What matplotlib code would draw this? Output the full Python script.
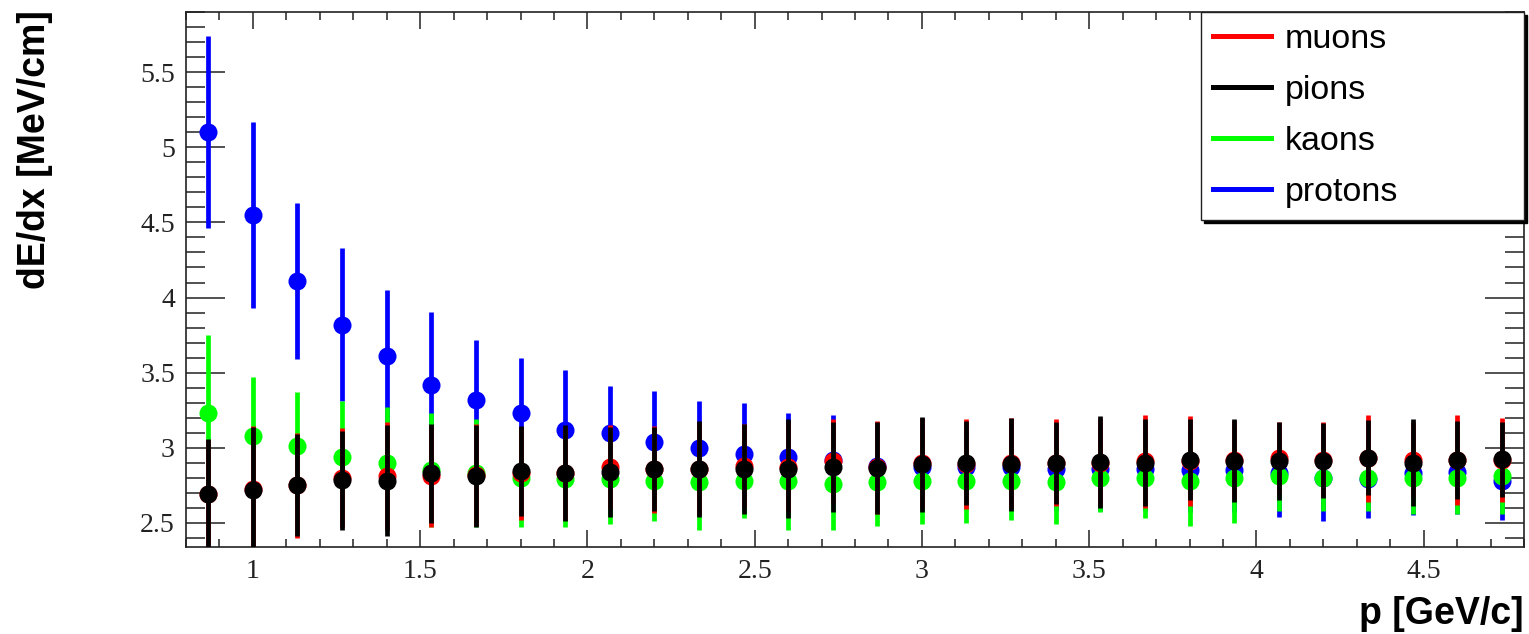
import matplotlib
matplotlib.use('Agg')
import matplotlib.pyplot as plt
from matplotlib.lines import Line2D
from matplotlib.ticker import MultipleLocator

# bin centres, p [GeV/c]
p = [0.867, 1.0, 1.133, 1.267, 1.4, 1.533, 1.667, 1.8, 1.933, 2.067,
	2.2, 2.333, 2.467, 2.6, 2.733, 2.867, 3.0, 3.133, 3.267, 3.4,
	3.533, 3.667, 3.8, 3.933, 4.067, 4.2, 4.333, 4.467, 4.6, 4.733]

muons = [2.69, 2.725, 2.75, 2.80, 2.81, 2.81, 2.82, 2.83, 2.83, 2.87,
	2.857, 2.86, 2.88, 2.87, 2.91, 2.87, 2.90, 2.89, 2.90, 2.90,
	2.90, 2.91, 2.91, 2.92, 2.93, 2.92, 2.93, 2.92, 2.92, 2.92]
muons_err = [0.36, 0.42, 0.35, 0.33, 0.36, 0.34, 0.34, 0.31, 0.31, 0.28,
	0.29, 0.31, 0.28, 0.30, 0.28, 0.31, 0.30, 0.30, 0.30, 0.29,
	0.29, 0.31, 0.30, 0.26, 0.24, 0.25, 0.29, 0.25, 0.30, 0.28]

pions = [2.69, 2.72, 2.755, 2.785, 2.78, 2.83, 2.81, 2.845, 2.835, 2.84,
	2.86, 2.86, 2.86, 2.86, 2.87, 2.865, 2.89, 2.90, 2.89, 2.90,
	2.905, 2.90, 2.92, 2.915, 2.91, 2.915, 2.935, 2.90, 2.92, 2.925]
pions_err = [0.37, 0.42, 0.34, 0.33, 0.37, 0.33, 0.34, 0.30, 0.32, 0.30,
	0.28, 0.32, 0.30, 0.33, 0.30, 0.305, 0.315, 0.28, 0.31, 0.275,
	0.305, 0.29, 0.27, 0.275, 0.26, 0.25, 0.25, 0.29, 0.26, 0.25]

kaons = [3.23, 3.08, 3.01, 2.94, 2.90, 2.85, 2.83, 2.80, 2.79, 2.79,
	2.78, 2.77, 2.78, 2.78, 2.76, 2.77, 2.78, 2.78, 2.78, 2.77,
	2.80, 2.80, 2.78, 2.80, 2.81, 2.80, 2.80, 2.80, 2.80, 2.81]
kaons_err = [0.52, 0.39, 0.36, 0.37, 0.37, 0.38, 0.36, 0.33, 0.32, 0.30,
	0.27, 0.32, 0.25, 0.33, 0.31, 0.29, 0.29, 0.28, 0.26, 0.28,
	0.23, 0.27, 0.30, 0.30, 0.23, 0.22, 0.22, 0.24, 0.24, 0.25]

protons = [5.10, 4.55, 4.11, 3.82, 3.61, 3.42, 3.32, 3.23, 3.12, 3.10,
	3.04, 3.00, 2.96, 2.94, 2.92, 2.88, 2.87, 2.87, 2.87, 2.86,
	2.86, 2.86, 2.85, 2.85, 2.83, 2.80, 2.79, 2.83, 2.84, 2.78]
protons_err = [0.64, 0.62, 0.52, 0.51, 0.44, 0.485, 0.40, 0.37, 0.40, 0.31,
	0.34, 0.31, 0.34, 0.29, 0.30, 0.28, 0.28, 0.28, 0.28, 0.28,
	0.28, 0.28, 0.28, 0.28, 0.29, 0.29, 0.26, 0.28, 0.28, 0.26]

W, H = 1529, 634
fig = plt.figure(figsize=(W/100., H/100.), dpi=100)
ax = fig.add_axes([186./W, 1-547./H, (1524-186.)/W, (547-12.)/H])

# drawing order: protons, kaons, muons, pions on top
series = [(protons, protons_err, (0, 0, 1)),
	(kaons, kaons_err, (0, 1, 0)),
	(muons, muons_err, (1, 0, 0)),
	(pions, pions_err, (0, 0, 0))]
for z, (vals, errs, col) in enumerate(series):
	ax.errorbar(p, vals, yerr=errs, fmt='o', color=col, ms=13, mew=0,
		elinewidth=3.4, capsize=0, zorder=3+z)

ax.set_xlim(0.8, 4.8)
ax.set_ylim(2.34, 5.9)
ax.xaxis.set_major_locator(MultipleLocator(0.5))
ax.xaxis.set_minor_locator(MultipleLocator(0.1))
ax.yaxis.set_major_locator(MultipleLocator(0.5))
ax.yaxis.set_minor_locator(MultipleLocator(0.1))
ax.xaxis.set_major_formatter(lambda v, pos: '%g' % v)
ax.yaxis.set_major_formatter(lambda v, pos: '%g' % v)

ax.tick_params(which='both', direction='in', top=True, right=True, width=1.1, colors='#222222')
ax.tick_params(axis='x', which='major', length=12.2, pad=9)
ax.tick_params(axis='x', which='minor', length=5.8)
ax.tick_params(axis='y', which='major', length=28, pad=8)
ax.tick_params(axis='y', which='minor', length=14)
for lab in ax.get_xticklabels() + ax.get_yticklabels():
	lab.set_fontfamily('Liberation Serif')
	lab.set_fontsize(20)
	lab.set_color('#222222')
for s in ax.spines.values():
	s.set_linewidth(1.2)
	s.set_color('#222222')

fig.text(35./W, 1-10./H, 'dE/dx [MeV/cm]', rotation=90, ha='center', va='top',
	family='Liberation Sans', weight='bold', fontsize=27)
fig.text(1524./W, 1-596./H, 'p [GeV/c]', ha='right', va='top',
	family='Liberation Sans', weight='bold', fontsize=27)

handles = [Line2D([], [], color=(1, 0, 0), lw=3.6),
	Line2D([], [], color=(0, 0, 0), lw=3.6),
	Line2D([], [], color=(0, 1, 0), lw=3.6),
	Line2D([], [], color=(0, 0, 1), lw=3.6)]
leg = ax.legend(handles, ['muons', 'pions', 'kaons', 'protons'],
	loc='upper left', mode='expand',
	bbox_to_anchor=(1201./W, 1-215./H, (1524-1201.)/W, 203./H),
	bbox_transform=fig.transFigure, borderaxespad=0,
	prop={'family': 'Liberation Sans', 'size': 24.5},
	handlelength=1.7, handletextpad=0.4, labelspacing=0.59, borderpad=0.35,
	fancybox=False, framealpha=1, edgecolor='#222222',
	shadow={'color': 'black', 'alpha': 1})
leg.get_frame().set_linewidth(1.0)
leg.set_zorder(10)

fig.savefig('out.png', dpi=100)
